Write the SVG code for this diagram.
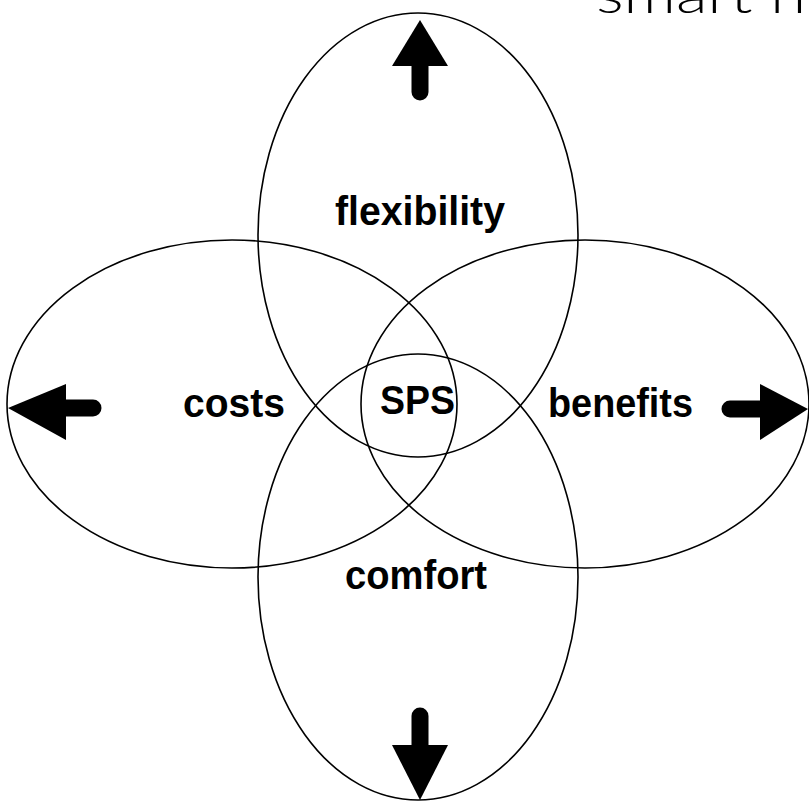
<svg xmlns="http://www.w3.org/2000/svg" width="809" height="803" viewBox="0 0 809 803">
<style>
.e{fill:none;stroke:#000;stroke-width:1.6}
.l{font-family:"Liberation Sans",Arial,sans-serif;font-weight:bold;font-size:40px;fill:#000}
.a{fill:#000}
.s{stroke:#000;stroke-width:17;stroke-linecap:round;fill:none}
</style>
<rect width="809" height="803" fill="#fff"/>
<text x="596" y="13" font-family="'Lato','Open Sans',sans-serif" font-weight="300" font-size="50" textLength="210" lengthAdjust="spacingAndGlyphs">smart h</text>
<g id="ellipses">
<ellipse id="top" class="e" cx="418" cy="235" rx="160" ry="222"/>
<ellipse id="bottom" class="e" cx="418" cy="577" rx="160" ry="223"/>
<ellipse id="left" class="e" cx="232" cy="404" rx="225" ry="164"/>
<ellipse id="right" class="e" cx="585" cy="404" rx="224" ry="164"/>
</g>
<g id="arrows">
<g id="arrow-up"><path class="s" d="M420 92V60"/><polygon class="a" points="420,20 448,66 392,66"/></g>
<g id="arrow-left"><path class="s" d="M93 408H60"/><polygon class="a" points="8,408 66,384 66,440"/></g>
<g id="arrow-right"><path class="s" d="M730 409H765"/><polygon class="a" points="808,409 760,384 760,440"/></g>
<g id="arrow-down"><path class="s" d="M420 716V750"/><polygon class="a" points="420,800 392,745 448,745"/></g>
</g>
<g id="labels">
<text class="l" x="335" y="225" textLength="170" lengthAdjust="spacingAndGlyphs">flexibility</text>
<text class="l" x="183" y="417" textLength="102" lengthAdjust="spacingAndGlyphs">costs</text>
<text class="l" x="380" y="414" textLength="75" lengthAdjust="spacingAndGlyphs">SPS</text>
<text class="l" x="548" y="417" textLength="145" lengthAdjust="spacingAndGlyphs">benefits</text>
<text class="l" x="345" y="589" textLength="142" lengthAdjust="spacingAndGlyphs">comfort</text>
</g>
</svg>
